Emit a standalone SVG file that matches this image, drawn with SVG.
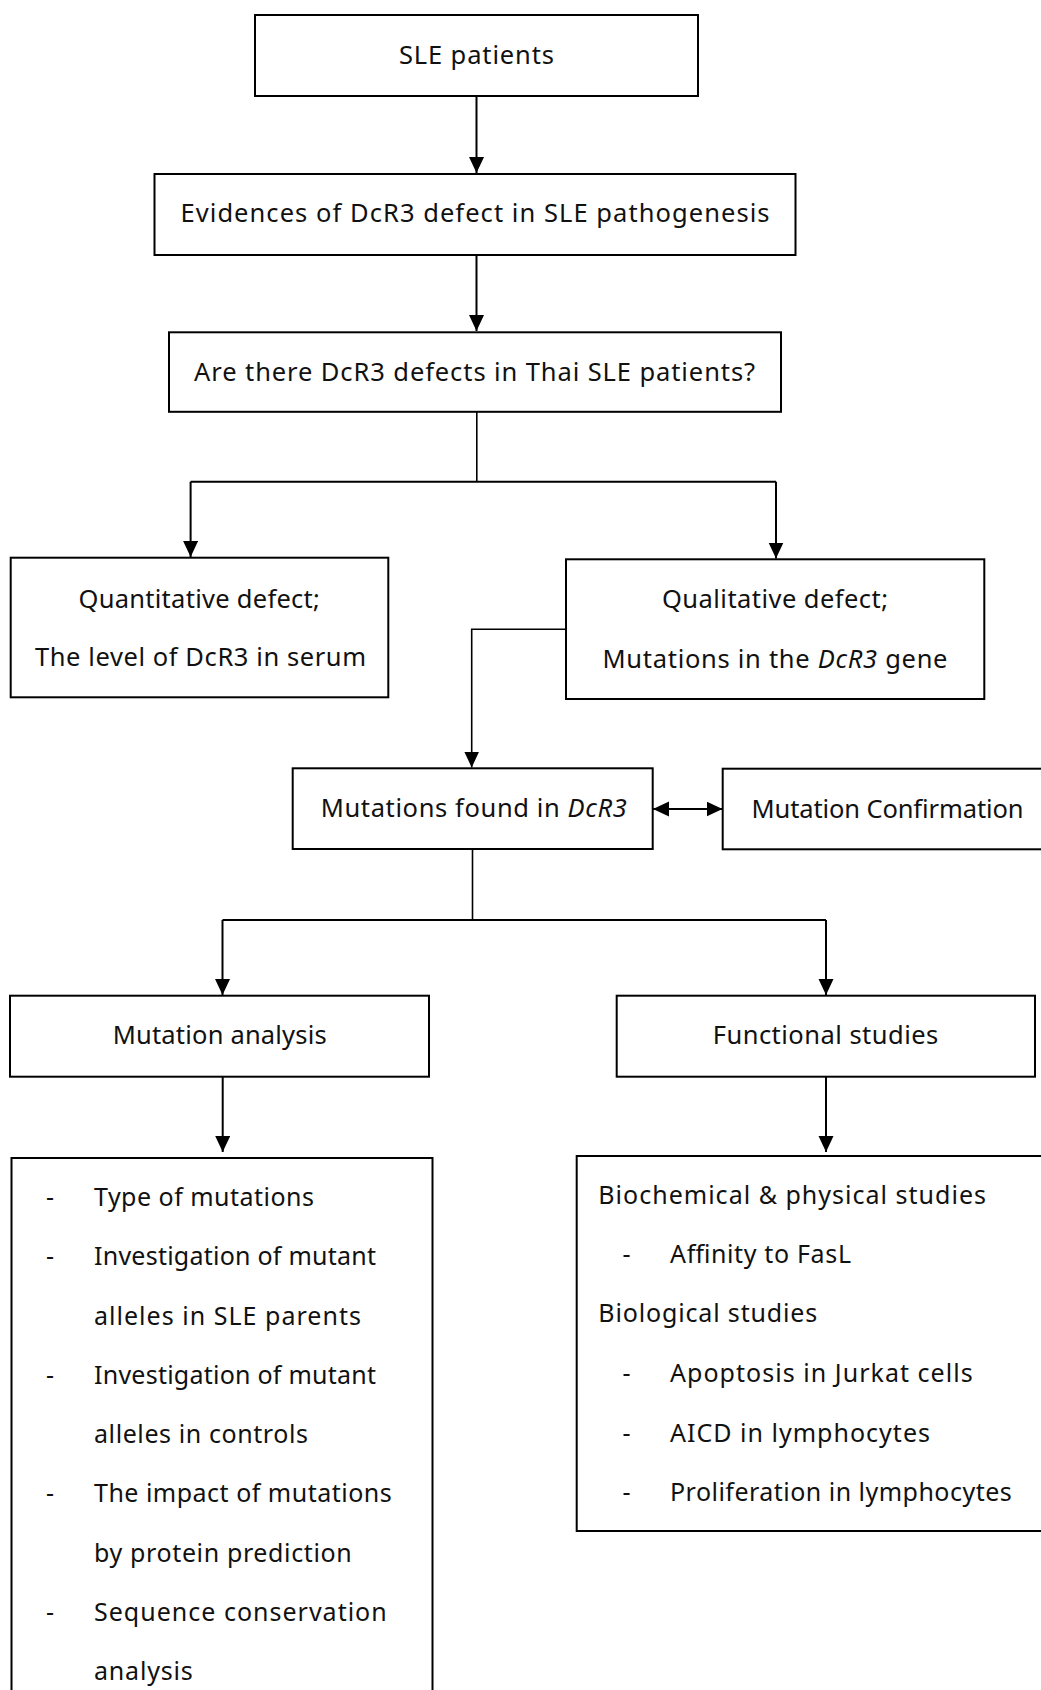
<svg xmlns="http://www.w3.org/2000/svg" width="1041" height="1690" viewBox="0 0 1041 1690">
<style>
  .box { fill: #ffffff; stroke: #000000; stroke-width: 2; }
  .t { font-family: "Noto Sans", "Liberation Sans", sans-serif; font-size: 25.5px; fill: #111111; }
  .l { font-family: "Noto Sans", "Liberation Sans", sans-serif; font-size: 25px; fill: #111111; }
  .c { text-anchor: middle; }
  .conn { fill: none; stroke: #000000; stroke-width: 2; }
  .thin { fill: none; stroke: #000000; stroke-width: 1.6; }
  .arr { marker-end: url(#ah); }
  .dbl { marker-end: url(#ah); marker-start: url(#ah); }
</style>
<defs>
  <marker id="ah" markerUnits="userSpaceOnUse" markerWidth="17" markerHeight="16" refX="16" refY="7.5" orient="auto-start-reverse">
    <path d="M0,0 L16,7.5 L0,15 Z" fill="#000000"/>
  </marker>
</defs>
<rect x="0" y="0" width="1041" height="1690" fill="#ffffff"/>

<g id="connectors">
  <line class="conn arr" x1="476.5" y1="96" x2="476.5" y2="173"/>
  <line class="conn arr" x1="476.5" y1="255" x2="476.5" y2="331"/>
  <polyline class="thin" points="476.8,412 476.8,481.7"/>
  <line class="conn" x1="190.6" y1="481.7" x2="776" y2="481.7"/>
  <line class="conn arr" x1="190.6" y1="481.7" x2="190.6" y2="557"/>
  <line class="conn arr" x1="776" y1="481.7" x2="776" y2="558.5"/>
  <polyline class="thin arr" points="566,629.3 471.7,629.3 471.7,767.5"/>
  <line class="conn dbl" x1="653" y1="809" x2="722.5" y2="809"/>
  <line class="thin" x1="472.5" y1="849" x2="472.5" y2="920"/>
  <line class="conn" x1="222.5" y1="920" x2="826" y2="920"/>
  <line class="conn arr" x1="222.5" y1="920" x2="222.5" y2="995"/>
  <line class="conn arr" x1="826" y1="920" x2="826" y2="995"/>
  <line class="conn arr" x1="222.7" y1="1076.7" x2="222.7" y2="1152"/>
  <line class="conn arr" x1="826" y1="1076.7" x2="826" y2="1152"/>
</g>

<g id="node-sle">
  <rect class="box" x="255" y="15" width="443" height="81"/>
  <text class="t c" x="476.5" y="64" textLength="155">SLE patients</text>
</g>

<g id="node-evidences">
  <rect class="box" x="154.5" y="174" width="641" height="81"/>
  <text class="t c" x="475" y="222" textLength="589">Evidences of DcR3 defect in SLE pathogenesis</text>
</g>

<g id="node-question">
  <rect class="box" x="169" y="332.3" width="612" height="79.5"/>
  <text class="t c" x="474.6" y="380.5" textLength="561">Are there DcR3 defects in Thai SLE patients?</text>
</g>

<g id="node-quantitative">
  <rect class="box" x="10.7" y="557.7" width="377.6" height="139.6"/>
  <text class="t c" x="199.2" y="607.7" textLength="241.5">Quantitative defect;</text>
  <text class="t c" x="200.5" y="666" textLength="331">The level of DcR3 in serum</text>
</g>

<g id="node-qualitative">
  <rect class="box" x="566" y="559.3" width="418.3" height="139.7"/>
  <text class="t c" x="775" y="608.3" textLength="226">Qualitative defect;</text>
  <text class="t c" x="775" y="667.7" textLength="345">Mutations in the <tspan font-style="italic">DcR3</tspan> gene</text>
</g>

<g id="node-found">
  <rect class="box" x="292.7" y="768.3" width="360" height="80.7"/>
  <text class="t c" x="473.7" y="816.7" textLength="306">Mutations found in <tspan font-style="italic">DcR3</tspan></text>
</g>

<g id="node-confirmation">
  <rect class="box" x="722.7" y="768.7" width="400" height="80.6"/>
  <text class="t" x="751.5" y="817.7" textLength="272">Mutation Confirmation</text>
</g>

<g id="node-mutation-analysis">
  <rect class="box" x="10" y="995.7" width="419" height="81"/>
  <text class="t c" x="219.7" y="1044" textLength="214">Mutation analysis</text>
</g>

<g id="node-functional">
  <rect class="box" x="616.7" y="995.7" width="418.3" height="81"/>
  <text class="t c" x="825.5" y="1044" textLength="225.6">Functional studies</text>
</g>

<g id="node-analysis-list">
  <rect class="box" x="11.5" y="1158" width="421" height="600"/>
  <text class="l" x="46" y="1206">-</text>
  <text class="l" x="94" y="1206" textLength="220">Type of mutations</text>
  <text class="l" x="46" y="1265.3">-</text>
  <text class="l" x="94" y="1265.3" textLength="282">Investigation of mutant</text>
  <text class="l" x="94" y="1324.5" textLength="267">alleles in SLE parents</text>
  <text class="l" x="46" y="1383.8">-</text>
  <text class="l" x="94" y="1383.8" textLength="282">Investigation of mutant</text>
  <text class="l" x="94" y="1443" textLength="214">alleles in controls</text>
  <text class="l" x="46" y="1502.3">-</text>
  <text class="l" x="94" y="1502.3" textLength="297.7">The impact of mutations</text>
  <text class="l" x="94" y="1561.5" textLength="257.7">by protein prediction</text>
  <text class="l" x="46" y="1620.8">-</text>
  <text class="l" x="94" y="1620.8" textLength="292.7">Sequence conservation</text>
  <text class="l" x="94" y="1680" textLength="98.7">analysis</text>
</g>

<g id="node-functional-list">
  <rect class="box" x="576.7" y="1156" width="500" height="375"/>
  <text class="l" x="598.3" y="1204" textLength="387.7">Biochemical &amp; physical studies</text>
  <text class="l" x="622.5" y="1263">-</text>
  <text class="l" x="670" y="1263" textLength="181">Affinity to FasL</text>
  <text class="l" x="598.3" y="1322" textLength="219">Biological studies</text>
  <text class="l" x="622.5" y="1381.7">-</text>
  <text class="l" x="670" y="1381.7" textLength="302.7">Apoptosis in Jurkat cells</text>
  <text class="l" x="622.5" y="1441.5">-</text>
  <text class="l" x="670" y="1441.5" textLength="260">AICD in lymphocytes</text>
  <text class="l" x="622.5" y="1500.7">-</text>
  <text class="l" x="670" y="1500.7" textLength="341.7">Proliferation in lymphocytes</text>
</g>
</svg>
